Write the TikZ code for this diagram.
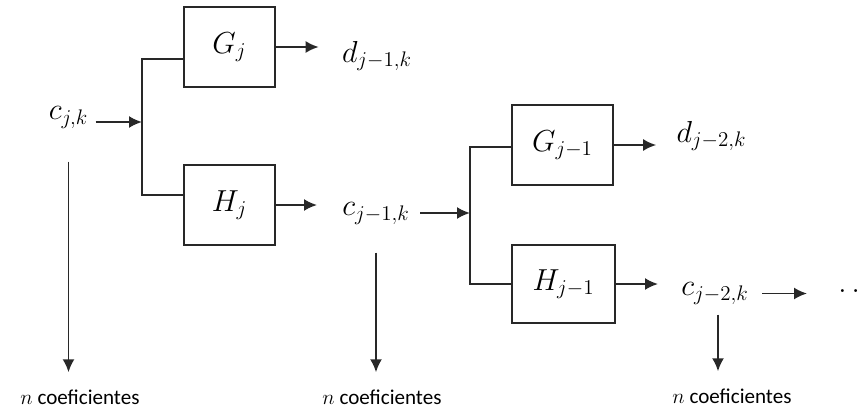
\documentclass[tikz,border=0pt]{standalone}
\usepackage{fontspec}
\usepackage{tikz}
\usetikzlibrary{arrows.meta, positioning, calc}
\newfontfamily\lblfont{Carlito}
\definecolor{wirec}{RGB}{40,40,40}

\begin{document}
\begin{tikzpicture}[
      x=0.02cm, y=-0.02cm,
      blk/.style={rectangle, draw=wirec, line width=1.1pt,
                  minimum width=1.82cm, minimum height=1.6cm,
                  font=\fontsize{18}{21}\selectfont, inner sep=0pt},
      sig/.style={font=\fontsize{18}{21}\selectfont, inner sep=0pt},
      cnt/.style={font=\lblfont\fontsize{12}{14}\selectfont, inner sep=0pt},
      wire/.style={line width=1.1pt, draw=wirec},
      arr/.style={-{Latex[length=2.6mm,width=2.4mm]}, line width=1.1pt, draw=wirec}
    ]
    \useasboundingbox (0,0) rectangle (859,409);
    % first stage
    \node[blk] (gj) at (229.5,47) {$G_j$};
    \node[blk] (hj) at (229.5,205) {$H_j$};
    % second stage
    \node[blk, minimum width=2.02cm] (gjm) at (562.5,145) {$G_{j-1}$};
    \node[blk, minimum width=2.06cm, minimum height=1.56cm] (hjm) at (563.5,284) {$H_{j-1}$};
    % signals
    \node[sig] (cjk) at (68.5,117.5) {$c_{j,k}$};
    \node[sig] (dja) at (377,56) {$d_{j-1,k}$};
    \node[sig] (cja) at (376,213.5) {$c_{j-1,k}$};
    \node[sig] (djb) at (711.5,136) {$d_{j-2,k}$};
    \node[sig] (cjb) at (715,293.5) {$c_{j-2,k}$};
    \node[sig, anchor=west] (dots) at (838,291) {$\ldots$};
    % counts
    \node[cnt] (na) at (80,397) {$n$ coeficientes};
    \node[cnt] (nb) at (382,397) {$n$ coeficientes};
    \node[cnt] (nc) at (732,396) {$n$ coeficientes};
    % split points
    \coordinate (sa) at (142,122);
    \coordinate (sb) at (470,213);
    % first split
    \draw[arr, shorten <=0.14cm] (cjk.east |- sa) -- (sa);
    \draw[wire] ([yshift=-0.24cm]gj.west) -| (sa) |- ([yshift=0.2cm]hj.west);
    \draw[arr, shorten >=0.46cm] (gj.east) -- (gj.east -| dja.west);
    \draw[arr, shorten >=0.5cm] (hj.east) -- (hj.east -| cja.west);
    % second split
    \draw[arr, shorten <=0.2cm] (cja.east |- sb) -- (sb);
    \draw[wire] ([yshift=-0.04cm]gjm.west) -| (sb) |- (hjm.west);
    \draw[arr, shorten >=0.4cm] (gjm.east) -- (gjm.east -| djb.west);
    \draw[arr, shorten >=0.46cm] (hjm.east) -- (hjm.east -| cjb.west);
    \draw[arr, shorten <=0.26cm, shorten >=0.62cm] (cjb.east) -- (cjb.east -| dots.west);
    % coefficient counts
    \draw[arr, shorten <=0.66cm, shorten >=0.34cm] (cjk.south) -- (cjk.south |- na.north);
    \draw[arr, shorten <=0.56cm, shorten >=0.34cm] (cja.south) -- (cja.south |- nb.north);
    \draw[arr, shorten <=0.2cm, shorten >=0.34cm] ([xshift=0.06cm]cjb.south) -- ([xshift=0.06cm]cjb.south |- nc.north);
  \end{tikzpicture}
\end{document}
